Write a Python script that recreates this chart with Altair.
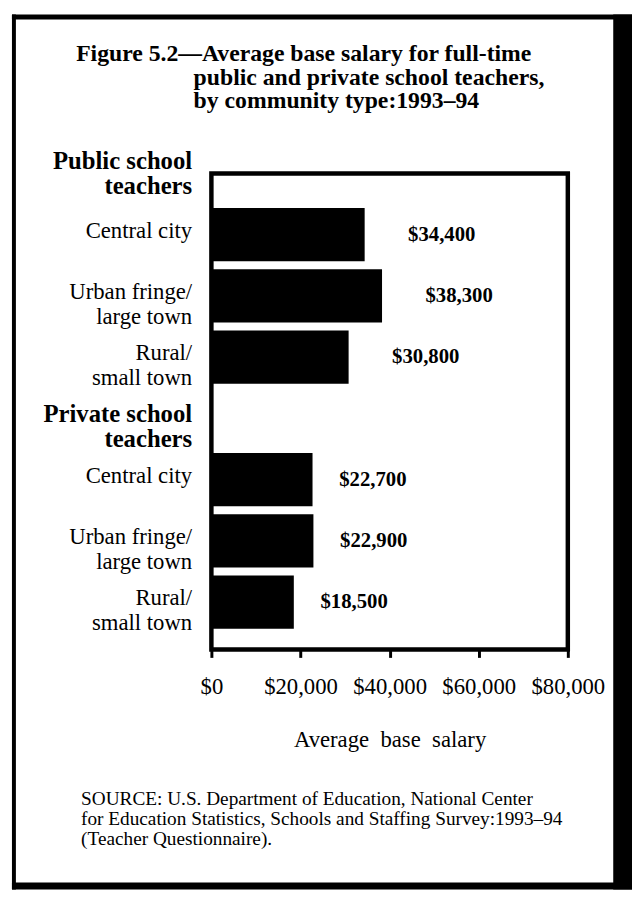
import altair as alt
import pandas as pd

SERIF = "Liberation Serif"

# ---- data ----
communities = ["Central city", "Urban fringe/|large town", "Rural/|small town",
               "Central city", "Urban fringe/|large town", "Rural/|small town"]
groups = ["Public", "Public", "Public", "Private", "Private", "Private"]
salaries = [34400, 38300, 30800, 22700, 22900, 18500]
x_ticks = [0, 20000, 40000, 60000, 80000]
public_header = ["Public school", "teachers"]
private_header = "Private school|teachers"
title_lines = ["Figure 5.2\u2014Average base salary for full-time",
               "public and private school teachers,",
               "by community type:1993\u201394"]
x_title = "Average\u00a0\u00a0base\u00a0\u00a0salary"
source_lines = ["SOURCE: U.S. Department of Education, National Center",
                "for Education Statistics, Schools and Staffing Survey:1993\u201394",
                "(Teacher Questionnaire)."]

# row keys (unique), header row for private group inserted between groups
order = ([f"{i}|{c}" for i, c in enumerate(communities[:3])]
         + [f"3|{private_header}"]
         + [f"{i + 4}|{c}" for i, c in enumerate(communities[3:])])
rows = [order[i] for i in range(3)] + [order[i] for i in range(4, 7)]
df = pd.DataFrame({"row": rows, "group": groups, "community": communities, "salary": salaries})

W, H = 361, 482

is_header = "indexof(datum.value, 'Private school') >= 0"

y_enc = alt.Y(
    "row:N",
    sort=order,
    scale=alt.Scale(domain=order, paddingInner=0.13, paddingOuter=0.45, align=0.625),
    title=public_header,
    axis=alt.Axis(
        labelExpr="slice(split(datum.value, '|'), 1)",
        labelFont=SERIF,
        labelFontSize=alt.condition(is_header, alt.value(25), alt.value(23)),
        labelFontWeight=alt.condition(is_header, alt.value("bold"), alt.value("normal")),
        labelColor="black",
        labelLineHeight=25,
        labelAlign="right",
        labelBaseline="middle",
        labelPadding=20,
        labelOffset=-4,
        labelLimit=0,
        ticks=False,
        domain=False,
        titleFont=SERIF,
        titleFontSize=25,
        titleFontWeight="bold",
        titleColor="black",
        titleAngle=0,
        titleAlign="right",
        titleBaseline="middle",
        titleLineHeight=25,
        titleX=-20,
        titleY=-13,
    ),
)

x_enc = alt.X(
    "salary:Q",
    scale=alt.Scale(domain=[0, 80000], nice=False),
    title=x_title,
    axis=alt.Axis(
        values=x_ticks,
        format="$,.0f",
        labelFont=SERIF,
        labelFontSize=23,
        labelColor="black",
        labelPadding=19,
        labelFlush=False,
        tickSize=8,
        tickWidth=3,
        tickColor="black",
        domain=False,
        grid=False,
        titleFont=SERIF,
        titleFontSize=23,
        titleFontWeight="normal",
        titleColor="black",
        titlePadding=30,
    ),
)

base = alt.Chart(df)
bars = base.mark_bar(color="black").encode(x=x_enc, y=y_enc)


def value_labels(group, dx):
    return base.transform_filter(alt.datum.group == group).mark_text(
        align="left", baseline="middle", dx=dx, font=SERIF,
        fontSize=21, fontWeight="bold", color="black").encode(
        x="salary:Q", y=alt.Y("row:N", sort=order),
        text=alt.Text("salary:Q", format="$,.0f"))


values_pub = value_labels("Public", 44)
values_priv = value_labels("Private", 27)

one = alt.Data(values=[{}])


def txt(line, x, y, size, weight="normal"):
    return alt.Chart(one).mark_text(text=line, align="left", baseline="alphabetic", font=SERIF,
                                    fontSize=size, fontWeight=weight, color="black").encode(
        x=alt.value(x), y=alt.value(y))


def box(x, x2, y, y2):
    return alt.Chart(one).mark_rect(color="black").encode(
        x=alt.value(x), x2=alt.value(x2), y=alt.value(y), y2=alt.value(y2))


title_layers = [txt(title_lines[0], -137, -114, 24, "bold"),
                txt(title_lines[1], -18, -90, 24, "bold"),
                txt(title_lines[2], -18, -66, 24, "bold")]
source_layers = [txt(source_lines[0], -132, 640, 19.5),
                 txt(source_lines[1], -132, 660, 19.5),
                 txt(source_lines[2], -132, 680, 19.5)]
frame = [box(-202, -198, -161, 725), box(-202, 426, -161, -156),
         box(-202, 426, 718, 725), box(407, 426, -161, 725)]

chart = alt.layer(bars, values_pub, values_priv, *title_layers, *source_layers, *frame).properties(
    width=W, height=H,
    padding={"left": 206, "top": 162, "right": 65, "bottom": 245},
    autosize=alt.AutoSizeParams(type="none"),
    background="white",
).configure_view(stroke="black", strokeWidth=4.5)

chart.save("out.html", embed_options={"renderer": "svg", "actions": False})
